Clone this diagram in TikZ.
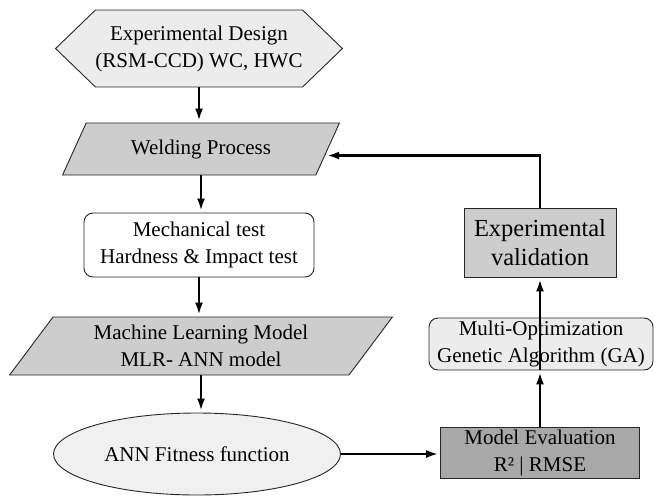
\documentclass[tikz,border=0pt]{standalone}
\usepackage{fontspec}
\setmainfont{Liberation Serif}
\usetikzlibrary{shapes.geometric,shapes.symbols,arrows.meta}
\definecolor{hexfill}{HTML}{ECECEC}
\definecolor{midgray}{HTML}{CDCDCD}
\definecolor{darkgray}{HTML}{A8A8A8}
\definecolor{palegray}{HTML}{F0F0F0}
\tikzset{
  box/.style={draw=black!85, line width=0.9pt, align=center, inner sep=0pt,
    font=\fontsize{21}{27}\selectfont},
  para/.style={box, trapezium, trapezium left angle=53, trapezium right angle=127,
    trapezium stretches=true, fill=midgray},
  flow/.style={-{Latex[length=12pt,width=8pt]}, line width=2.2pt, black,
    shorten >=2pt},
}
\begin{document}
\begin{tikzpicture}[x=1pt,y=-1pt]
\useasboundingbox (0,0) rectangle (655,496);
% left column
\node[box, signal, signal to=west and east, signal pointer angle=88,
  fill=hexfill, minimum width=284, minimum height=77] (ed) at (199,48.5)
  {Experimental Design\\(RSM-CCD) WC, HWC};
\node[para, minimum width=277, minimum height=52] (wp) at (201,149) {Welding Process};
\node[box, rectangle, rounded corners=9pt, fill=white,
  minimum width=230, minimum height=64] (mt) at (199,245)
  {Mechanical test\\Hardness \& Impact test};
\node[para, minimum width=383, minimum height=58] (ml) at (201,346)
  {Machine Learning Model\\MLR- ANN model};
\node[box, ellipse, fill=palegray, minimum width=287, minimum height=82] (af) at (197,454)
  {ANN Fitness function};
% right column
\node[box, rectangle, fill=darkgray, minimum width=199, minimum height=51] (me) at (540,452.5)
  {Model Evaluation\\R² | RMSE};
\node[box, rectangle, rounded corners=9pt, fill=hexfill,
  minimum width=224, minimum height=52] (mo) at (541,344)
  {Multi-Optimization\\Genetic Algorithm (GA)};
\node[box, rectangle, fill=midgray, minimum width=152, minimum height=69,
  font=\fontsize{24.5}{29}\selectfont] (xv) at (540,242.5)
  {Experimental\\validation};
% connectors
\draw[flow] (ed.south) -- (ed.south |- wp.north);
\draw[flow] (wp.south) -- (wp.south |- mt.north);
\draw[flow] (mt.south) -- (mt.south |- ml.north);
\draw[flow] (ml.south) -- (ml.south |- af.north);
\draw[flow] (af.east) -- (af.east -| me.west);
\draw[flow] (me.north) -- (me.north |- mo.south);
\draw[flow] (mo.south -| xv.south) -- (xv.south);
\draw[flow] (xv.north) |- (wp.-3);
\end{tikzpicture}
\end{document}
